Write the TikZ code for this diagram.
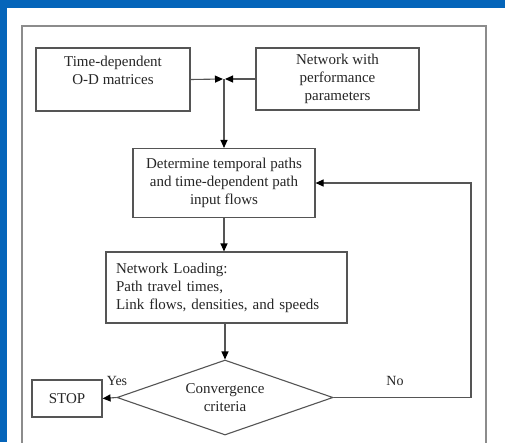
\documentclass[tikz,border=0pt]{standalone}
\usepackage{fontspec}
\setmainfont{Liberation Serif}
\usetikzlibrary{shapes.geometric,arrows.meta}
\definecolor{bgblue}{HTML}{0565BA}
\definecolor{framegray}{HTML}{8C8C8C}
\definecolor{boxgray}{HTML}{555555}
\begin{document}
\begin{tikzpicture}[x=1pt,y=-1pt,
  every node/.style={font=\fontsize{15}{18}\selectfont, text=black!85},
  box/.style={draw=boxgray, line width=1.1pt, rectangle, inner sep=0pt, align=center},
  conn/.style={draw=boxgray, line width=1.1pt, -{Triangle[length=8pt,width=7pt,fill=black,color=black]}},
  small/.style={font=\fontsize{14}{16}\selectfont}
]
\fill[bgblue] (0,0) rectangle (505,442);
\fill[white] (6.5,8) rectangle (505,442);
\useasboundingbox (0,0) rectangle (505,442);
\draw[framegray, line width=1.6pt] (22,445) -- (22,26) -- (486,26) -- (486,445);

\node[box, minimum width=154pt, minimum height=63pt] (od) at (113,79.5) {Time-dependent\\O-D matrices\\~};
\node[box, minimum width=163pt, minimum height=62pt] (net) at (337.5,79) {Network with\\performance\\parameters};
\coordinate (j) at (224,79);
\node[box, minimum width=182pt, minimum height=69pt] (paths) at (224,183) {Determine temporal paths\\and time-dependent path\\input flows};
\node[box, minimum width=241pt, minimum height=71pt, align=left, text width=221pt] (load) at (226.5,287.5) {Network Loading:\\Path travel times,\\Link flows, densities, and speeds};
\node[draw=boxgray, line width=1.1pt, diamond, aspect=2.88, inner sep=0pt, minimum width=216pt, minimum height=75pt, align=center] (conv) at (225,397.5) {Convergence\\criteria};
\node[box, minimum width=70pt, minimum height=37pt] (stop) at (67,398.5) {STOP};
\coordinate (rc) at (471,397.5);

\draw[conn] (od.east) -- ([xshift=-1pt]j);
\draw[conn] (net.west) -- ([xshift=1pt]j);
\draw[conn] (j) -- (paths.north);
\draw[conn] (paths.south) -- (load.north -| paths.south);
\draw[conn] (load.south -| conv.north) -- (conv.north);
\draw[conn] (conv.west) -- (stop.east);
\draw[conn] (conv.east) -- (rc) |- (paths.east);
\node[small] at (117,381) {Yes};
\node[small] at (395,381) {No};
\end{tikzpicture}
\end{document}
